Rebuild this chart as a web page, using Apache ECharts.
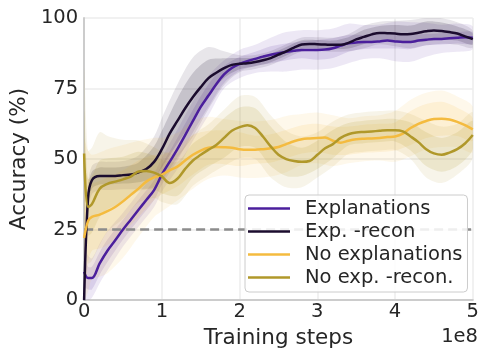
<!DOCTYPE html>
<html>
<head>
<meta charset="utf-8">
<script src="https://cdn.jsdelivr.net/npm/echarts@6/dist/echarts.min.js"></script>
<style>
  html, body { margin: 0; padding: 0; background: #ffffff; }
  #chart { width: 482px; height: 354px; }
</style>
</head>
<body>
<div id="chart"></div>
<script>
// Training steps (in units of 1e8)
const steps = [0, 0.05, 0.1, 0.2, 0.3, 0.4, 0.5, 0.6, 0.7, 0.8, 0.9,
  1.0, 1.1, 1.2, 1.3, 1.4, 1.5, 1.6, 1.7, 1.8, 1.9,
  2.0, 2.1, 2.2, 2.3, 2.4, 2.5, 2.6, 2.7, 2.8, 2.9,
  3.0, 3.1, 3.2, 3.3, 3.4, 3.5, 3.6, 3.7, 3.8, 3.9,
  4.0, 4.1, 4.2, 4.3, 4.4, 4.5, 4.6, 4.7, 4.8, 4.9, 5.0];

// Mean accuracy (%) per run type
const explanations = [10, 7.8, 7.8, 13, 17.5, 21.2, 25, 28.5, 32, 35.5, 39,
  44.5, 49, 53.5, 58.5, 63.5, 68.5, 72.5, 76.5, 80, 82.3,
  83.7, 84.7, 85.5, 86.3, 87, 87.5, 88, 88.4, 88.7, 88.7,
  88.7, 88.8, 89.3, 90.2, 91, 91.3, 91.5, 91.5, 91.7, 92,
  91.7, 91.5, 91.5, 92, 92.3, 92.6, 92.6, 92.8, 93, 93.2, 93];
const expRecon = [0, 36, 42.5, 44, 44, 44, 44.3, 44.5, 45.3, 46.5, 49,
  53.5, 59, 63.5, 68, 72, 75.5, 78.7, 80.6, 82.2, 83.4,
  83.8, 84, 84.4, 85, 85.8, 87, 88.2, 89.5, 90.6, 90.8,
  90.7, 90.6, 90.5, 90.5, 91.2, 92.4, 93.3, 94.2, 94.7, 94.6,
  94.5, 94.2, 94.3, 94.8, 95.3, 95.6, 95.4, 95, 94.5, 93.5, 92.5];
const noExplanations = [22, 28, 29.5, 30.3, 31.5, 33, 35, 37.3, 39.5, 42, 43.5,
  44.5, 46, 47.3, 49.5, 51.5, 53, 54, 54.3, 54.2, 54,
  53.5, 53.3, 53.3, 53.5, 53.8, 54.3, 55.3, 56.3, 57, 57.3,
  57.5, 57.6, 56.5, 55.8, 56.5, 57, 57.2, 57.3, 57.5, 57.8,
  58, 59, 61, 62.5, 63.5, 64.2, 64.3, 64, 63.2, 62, 60.5];
const noExpRecon = [52, 33, 34, 39.5, 41.2, 42, 42.8, 43.8, 45.6, 45.8, 45.2,
  43.8, 41.5, 43, 46.5, 49.5, 51.5, 53.3, 55, 57.5, 60,
  61.3, 62, 61, 58, 54.5, 51.5, 50, 49.3, 49, 49.3,
  51.5, 53.8, 55.3, 57.5, 58.8, 59.4, 59.6, 59.8, 60, 60.2,
  60.2, 59.8, 58, 56, 53.5, 52, 51.5, 52.3, 53.5, 55.5, 58.5];

// Spread around each mean: inner and outer half-widths (percentage points)
const bandSteps = [0, 0.05, 0.1, 0.2, 0.3, 0.5, 0.7, 0.9, 1.0, 1.2, 1.4, 1.6, 1.8,
  2.0, 2.2, 2.4, 2.6, 2.8, 3.0, 3.2, 3.4, 3.6, 3.8, 4.0, 4.2, 4.4, 4.6, 4.8, 5.0];
const explanationsInner = [5, 4, 4, 4, 4, 3.5, 3.5, 3.5, 3.5, 4, 4, 4, 3, 2.5, 2.5, 3, 3, 3, 3.5, 3.5, 3, 2.5, 2.5, 2.5, 2.5, 2, 2, 2, 2];
const explanationsOuter = [9, 8, 7, 7, 7, 6, 6, 6, 6, 7, 7, 7, 5, 5, 5, 6, 7, 7, 7, 7, 7, 6, 6, 7, 7, 6, 5, 5, 4];
const expReconInner = [2, 3, 3, 3, 3, 3, 3.5, 5.5, 6.5, 8, 8.5, 6.5, 3.5, 2, 1.5, 1.5, 1.5, 1.5, 1.5, 1.5, 2, 2.5, 2.5, 3, 3, 3.5, 3, 2.5, 2];
const expReconOuter = [3, 5, 5, 5, 5, 5, 6, 9, 11, 13, 14, 11, 6, 3, 2.5, 2.5, 2.5, 2.5, 2.5, 2.5, 3, 4, 4, 4.5, 5, 5, 4.5, 4, 3];
const noExplanationsInner = [25, 15, 12, 12, 12, 11, 10, 8, 7, 7, 7, 6, 6, 6, 5, 5, 5, 5, 5, 5, 5, 5, 5, 5, 6, 6, 6, 5, 4];
const noExplanationsOuter = [35, 25, 22, 22, 22, 20, 17, 14, 13, 12, 12, 11, 10, 10, 10, 10, 10, 9, 9, 9, 8, 8, 8, 9, 10, 10, 10, 9, 8];
const noExpReconInner = [15, 10, 10, 10, 9, 8, 7, 6, 6, 6, 6, 6, 7, 7, 7, 7, 6, 5, 5, 5, 4, 4, 4, 4, 5, 6, 6, 6, 5];
const noExpReconOuter = [30, 20, 20, 20, 17, 14, 11, 9, 9, 9, 9, 9, 10, 11, 11, 11, 10, 9, 8, 8, 7, 7, 7, 7, 8, 10, 10, 9, 8];

const chanceLevel = 25;
const xTicks = [0, 1, 2, 3, 4, 5];
const yTicks = [0, 25, 50, 75, 100];

const runs = [
  { name: 'Explanations', mean: explanations, inner: explanationsInner, outer: explanationsOuter, color: '#4b1f9c', rgb: '75,31,156', a: [0.10, 0.13] },
  { name: 'Exp. -recon', mean: expRecon, inner: expReconInner, outer: expReconOuter, color: '#1b0c2e', rgb: '27,12,46', a: [0.10, 0.16] },
  { name: 'No explanations', mean: noExplanations, inner: noExplanationsInner, outer: noExplanationsOuter, color: '#f4bb3f', rgb: '244,187,63', a: [0.10, 0.13] },
  { name: 'No exp. -recon.', mean: noExpRecon, inner: noExpReconInner, outer: noExpReconOuter, color: '#b0982a', rgb: '176,152,42', a: [0.10, 0.15] }
];

const FONT = '"DejaVu Sans", sans-serif';
const TEXT = '#262626';

function bandSeries(run, half, alpha) {
  const rows = bandSteps.map((x, i) => {
    const c = run.mean[steps.indexOf(x)];
    return [x, Math.max(0, c - half[i]), Math.min(100, c + half[i])];
  });
  return {
    type: 'custom',
    silent: true,
    z: 1,
    data: rows,
    renderItem: function (params, api) {
      if (params.dataIndex !== 0) return;
      const upper = rows.map(r => api.coord([r[0], r[2]]));
      const lower = rows.map(r => api.coord([r[0], r[1]])).reverse();
      const cs = params.coordSys;
      return {
        type: 'group',
        clipPath: { type: 'rect', shape: { x: cs.x, y: cs.y, width: cs.width, height: cs.height } },
        children: [{
          type: 'polygon',
          shape: { points: upper.concat(lower), smooth: 0.3 },
          style: { fill: 'rgba(' + run.rgb + ',' + alpha + ')', stroke: null }
        }]
      };
    }
  };
}

const series = [];
runs.forEach(run => {
  series.push(bandSeries(run, run.outer, run.a[0]));
  series.push(bandSeries(run, run.inner, run.a[1]));
});
series.push({
  type: 'line',
  name: 'chance',
  data: [[xTicks[0], chanceLevel], [xTicks[xTicks.length - 1], chanceLevel]],
  symbol: 'none',
  silent: true,
  z: 2,
  lineStyle: { color: '#8c8c8c', width: 2.5, type: [9, 5] }
});
runs.forEach(run => {
  series.push({
    type: 'line',
    name: run.name,
    data: steps.map((x, i) => [x, run.mean[i]]),
    symbol: 'none',
    smooth: 0.35,
    z: 3,
    color: run.color,
    itemStyle: { color: run.color },
    lineStyle: { color: run.color, width: 2.5 }
  });
});

const chart = echarts.init(document.getElementById('chart'), null, { renderer: 'canvas' });
chart.setOption({
  animation: false,
  backgroundColor: '#ffffff',
  grid: { left: 82, right: 1.5, top: 18, bottom: 53 },
  xAxis: {
    type: 'value',
    min: xTicks[0], max: xTicks[xTicks.length - 1], interval: 1,
    name: 'Training steps',
    nameLocation: 'middle',
    nameGap: 23,
    nameTextStyle: { fontSize: 21.5, color: TEXT, fontFamily: FONT },
    axisLine: { show: true, lineStyle: { color: '#cccccc', width: 2 } },
    axisTick: { show: false },
    axisLabel: { fontSize: 19.5, color: TEXT, fontFamily: FONT, margin: 2, showMaxLabel: true },
    splitLine: { show: true, lineStyle: { color: '#ececec', width: 1.5 } }
  },
  yAxis: {
    type: 'value',
    min: yTicks[0], max: yTicks[yTicks.length - 1], interval: 25,
    name: 'Accuracy (%)',
    nameLocation: 'middle',
    nameGap: 50,
    nameRotate: 90,
    nameTextStyle: { fontSize: 21.5, color: TEXT, fontFamily: FONT },
    axisLine: { show: true, lineStyle: { color: '#cccccc', width: 2 } },
    axisTick: { show: false },
    axisLabel: { fontSize: 19.5, color: TEXT, fontFamily: FONT, margin: 6 },
    splitLine: { show: true, lineStyle: { color: '#ececec', width: 1.5 } }
  },
  legend: {
    data: runs.map(r => ({ name: r.name, icon: 'rect' })),
    orient: 'vertical',
    left: 245, top: 195,
    itemWidth: 42, itemHeight: 2.5, itemGap: 2,
    padding: [3, 5, 4, 3],
    backgroundColor: 'rgba(255,255,255,0.85)',
    borderColor: '#cccccc', borderWidth: 1, borderRadius: 4,
    textStyle: { fontSize: 19.5, color: TEXT, fontFamily: FONT, lineHeight: 21, padding: [0, 0, 0, 10] },
    selectedMode: false
  },
  graphic: [{
    type: 'text',
    right: 4, top: 327,
    style: { text: '1e8', font: '19.5px ' + FONT, fill: TEXT }
  }],
  series: series
});
</script>
</body>
</html>
